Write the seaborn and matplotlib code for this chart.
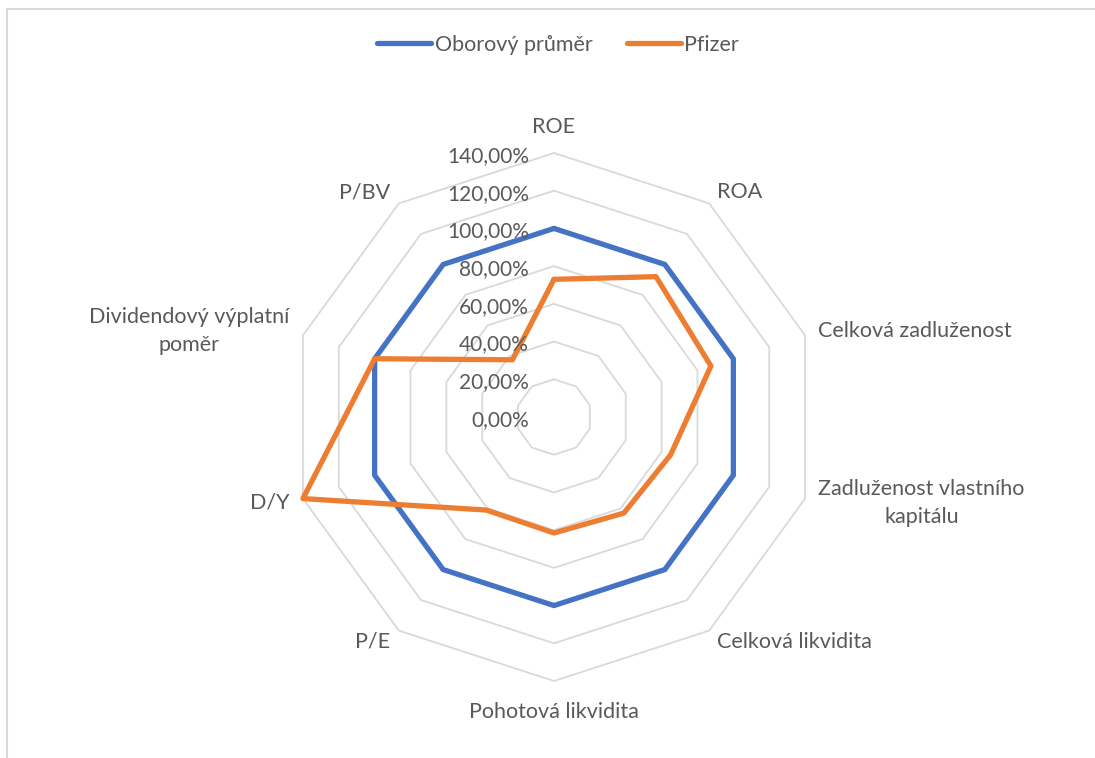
import numpy as np
import pandas as pd
import matplotlib
matplotlib.use("Agg")
import matplotlib.pyplot as plt
import seaborn as sns
from matplotlib.patches import Rectangle

categories = ["ROE", "ROA", "Celková zadluženost", "Zadluženost vlastního\nkapitálu",
              "Celková likvidita", "Pohotová likvidita", "P/E", "D/Y",
              "Dividendový výplatní\npoměr", "P/BV"]
oborovy = [100, 100, 100, 100, 100, 100, 100, 100, 100, 100]
pfizer = [73, 92, 87.5, 65, 63, 61.5, 61, 140, 100, 37.5]
ticks = [0, 20, 40, 60, 80, 100, 120, 140]
tick_labels = ["0,00%", "20,00%", "40,00%", "60,00%", "80,00%", "100,00%", "120,00%", "140,00%"]
series = ["Oborový průměr", "Pfizer"]
colors = ["#4472C4", "#ED7D31"]

sns.set_style("white")
plt.rcParams['font.family'] = ['Lato', 'DejaVu Sans']
text_color = "#595959"

n = len(categories)
angles = np.linspace(0, 2 * np.pi, n, endpoint=False)
theta_closed = np.append(angles, 2 * np.pi)

rows = []
for name, vals in zip(series, [oborovy, pfizer]):
    vals_closed = list(vals) + [vals[0]]
    for t, v in zip(theta_closed, vals_closed):
        rows.append({"theta": t, "value": v, "series": name})
df = pd.DataFrame(rows)

W, H = 1095, 758
fig = plt.figure(figsize=(W / 100, H / 100), dpi=100)

# chart area border (only top and left visible in the crop)
fig.patches.append(Rectangle((7 / W, -0.05), 1.2, 1 - 9 / H + 0.05, transform=fig.transFigure,
                             fill=False, edgecolor="#d9d9d9", linewidth=1.5))

cx, cy, R = 554, 417, 264
ax = fig.add_axes([(cx - R) / W, (H - cy - R) / H, 2 * R / W, 2 * R / H], projection="polar")
ax.set_theta_zero_location("N")
ax.set_theta_direction(-1)
ax.set_ylim(0, 140)
ax.grid(False)
ax.spines["polar"].set_visible(False)
ax.set_xticks([])
ax.set_yticks([])
ax.patch.set_alpha(0)

# decagon rings
for t in ticks[1:]:
    ax.plot(theta_closed, [t] * len(theta_closed), color="#d9d9d9", lw=1.3, zorder=1, clip_on=False)

sns.lineplot(data=df, x="theta", y="value", hue="series", palette=colors, sort=False,
             estimator=None, lw=3.8, ax=ax, clip_on=False, zorder=3)
ax.set_xlabel("")
ax.set_ylabel("")
ax.get_legend().remove()

# value labels along ROE axis
for t, lab in zip(ticks, tick_labels):
    ax.annotate(lab, xy=(0, t), xytext=(-25, -3), textcoords="offset pixels",
                ha="right", va="center", fontsize=15, color=text_color, annotation_clip=False)

# category labels
for a, lab in zip(angles, categories):
    s, c = np.sin(a), np.cos(a)
    dx, dy = 14 * s, 14 * c
    if abs(s) < 0.1:
        ha = "center"
        dy += 12 * np.sign(c) if c > 0 else -17
    elif s > 0:
        ha = "left"
    else:
        ha = "right"
    ax.annotate(lab, xy=(a, 140), xytext=(dx, dy), textcoords="offset pixels",
                ha=ha, va="center", multialignment="center", fontsize=15.5,
                color=text_color, annotation_clip=False, linespacing=1.45)

handles = [plt.Line2D([], [], color=col, lw=3.8, solid_capstyle="round") for col in colors]
fig.legend(handles, series, loc="center", bbox_to_anchor=(558 / W, 1 - 45 / H), ncol=2,
           frameon=False, fontsize=15.5, handlelength=2.5, handletextpad=0.15,
           columnspacing=1.6, labelcolor=text_color)

fig.savefig("out.png", dpi=100, facecolor="white")
